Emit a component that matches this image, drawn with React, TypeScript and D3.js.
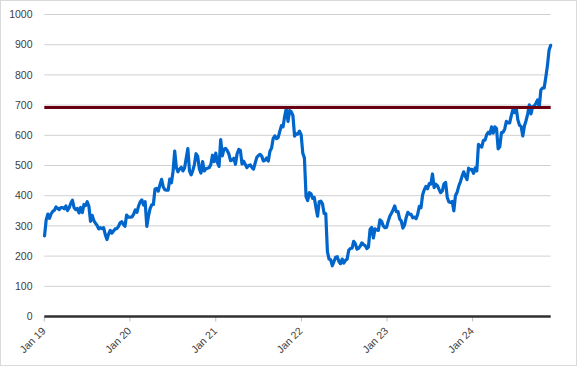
import React from "react";
import * as d3 from "d3";

// Weekly closes
const start2019 = "2019-01-02";
const values2019 = [267, 320, 339, 325, 340, 348, 352, 363, 358, 354, 361, 361, 357, 366, 351, 360, 375, 385, 360, 354, 358, 343, 361, 344, 371, 367, 380, 366, 315, 335, 318, 309, 302, 290, 294, 291, 294, 271, 255, 273, 285, 276, 283, 290, 291, 298, 310, 314, 305, 299, 336, 329];
const start2020 = "2020-01-03";
const values2020 = [329, 330, 339, 353, 345, 366, 380, 386, 369, 380, 298, 332, 357, 370, 371, 422, 424, 415, 436, 454, 429, 420, 418, 418, 455, 443, 481, 548, 493, 479, 489, 494, 482, 492, 524, 556, 482, 469, 483, 503, 539, 530, 489, 475, 513, 482, 489, 491, 493, 503, 534, 513];
const start2021 = "2021-01-01";
const values2021 = [541, 510, 497, 586, 532, 554, 557, 549, 538, 516, 518, 524, 504, 539, 553, 550, 505, 514, 503, 493, 500, 502, 494, 488, 508, 527, 533, 537, 531, 515, 517, 525, 515, 547, 558, 590, 598, 589, 592, 613, 632, 628, 664, 690, 646, 682, 678, 665, 597, 605, 604, 614, 602];
const start2022 = "2022-01-07";
const values2022 = [541, 525, 397, 384, 410, 406, 391, 394, 361, 332, 380, 382, 373, 341, 341, 215, 190, 188, 168, 182, 196, 198, 182, 175, 190, 177, 186, 190, 220, 225, 226, 249, 241, 223, 226, 233, 244, 238, 235, 225, 230, 289, 295, 260, 290, 287, 285, 320, 315, 300, 294, 295];
const start2023 = "2023-01-06";
const values2023 = [315, 332, 342, 353, 366, 347, 347, 323, 316, 293, 303, 328, 345, 339, 338, 327, 329, 324, 339, 365, 360, 403, 420, 431, 423, 440, 438, 472, 427, 438, 433, 421, 410, 416, 439, 444, 394, 379, 378, 381, 350, 401, 411, 432, 446, 464, 479, 465, 453, 491, 486, 487];
const start2024 = "2024-01-05";
const values2024 = [474, 492, 482, 570, 564, 561, 583, 584, 602, 610, 605, 628, 607, 628, 622, 555, 562, 609, 610, 621, 646, 641, 641, 665, 686, 675, 690, 651, 633, 629, 598, 631, 649, 671, 701, 671, 695, 697, 706, 717, 692, 750, 756, 757, 791, 830, 882, 898];

const yTicks = [0, 100, 200, 300, 400, 500, 600, 700, 800, 900, 1000];
const xTickDates = ["2019-01-01", "2020-01-01", "2021-01-01", "2022-01-01", "2023-01-01", "2024-01-01"];
const xTickLabels = ["Jan 19", "Jan 20", "Jan 21", "Jan 22", "Jan 23", "Jan 24"];
const referenceLevel = 691.69;

const W = 577;
const H = 366;
const left = 44.3;
const right = 550.7;
const top = 14.5;
const bottom = 316.5;

type Pt = { date: Date; value: number };

function buildYear(startStr: string, vals: number[]): Pt[] {
  const s = d3.timeParse("%Y-%m-%d")(startStr) as Date;
  return vals.map((v, i) => ({ date: d3.timeDay.offset(s, 7 * i), value: v }));
}

const series: Pt[] = [
  ...buildYear(start2019, values2019),
  ...buildYear(start2020, values2020),
  ...buildYear(start2021, values2021),
  ...buildYear(start2022, values2022),
  ...buildYear(start2023, values2023),
  ...buildYear(start2024, values2024),
];

export default function App() {
  const parse = d3.timeParse("%Y-%m-%d");
  const x = d3
    .scaleTime()
    .domain([parse("2019-01-01") as Date, series[series.length - 1].date])
    .range([left, right]);
  const y = d3.scaleLinear().domain([0, 1000]).range([bottom, top]);
  const line = d3
    .line<Pt>()
    .x((d) => x(d.date))
    .y((d) => y(d.value));
  const font = "'Liberation Sans', Arial, sans-serif";

  return (
    <div style={{ position: "fixed", left: 0, top: 0 }}>
      <svg width={W} height={H} style={{ display: "block", background: "#fff" }}>
        <rect x={0.5} y={0.5} width={W - 1} height={H - 1} fill="#fff" stroke="#d9d9d9" />
        {yTicks.map((t) => (
          <g key={t}>
            {t !== 0 && (
              <line x1={left} x2={right} y1={y(t)} y2={y(t)} stroke="#d0d0d0" strokeWidth={1} />
            )}
            <text
              x={32.5}
              y={y(t)}
              dy="0.35em"
              textAnchor="end"
              fontFamily={font}
              fontSize={10.5}
              fill="#404040"
            >
              {t}
            </text>
          </g>
        ))}
        {xTickDates.map((ds, i) => {
          const xx = x(parse(ds) as Date);
          return (
            <g key={ds}>
              <line x1={xx} x2={xx} y1={bottom} y2={bottom + 5} stroke="#bfbfbf" strokeWidth={1} />
              <text
                transform={`translate(${xx + 2},${bottom + 15}) rotate(-45)`}
                textAnchor="end"
                fontFamily={font}
                fontSize={10.5}
                fill="#404040"
              >
                {xTickLabels[i]}
              </text>
            </g>
          );
        })}
        <path
          d={line(series) || ""}
          fill="none"
          stroke="#0066cc"
          strokeWidth={3.2}
          strokeLinejoin="round"
          strokeLinecap="round"
        />
        <line
          x1={left}
          x2={right}
          y1={y(referenceLevel)}
          y2={y(referenceLevel)}
          stroke="#6b0012"
          strokeWidth={3}
        />
        <line x1={left} x2={right} y1={bottom} y2={bottom} stroke="#303030" strokeWidth={2.5} />
      </svg>
    </div>
  );
}
